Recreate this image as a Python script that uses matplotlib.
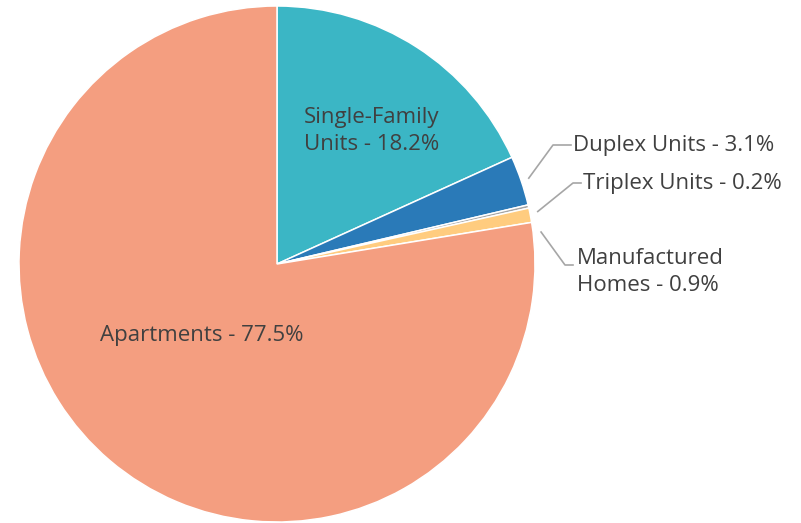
import matplotlib
matplotlib.use("Agg")
import matplotlib.pyplot as plt
import numpy as np

categories = ["Single-Family Units", "Duplex Units", "Triplex Units", "Manufactured Homes", "Apartments"]
values = [18.2, 3.1, 0.2, 0.9, 77.5]
colors = ["#3BB6C5", "#2A7AB8", "#A5A5A5", "#FFCC7F", "#F49E80"]
labels = ["Single-Family\nUnits - 18.2%", "Duplex Units - 3.1%", "Triplex Units - 0.2%",
          "Manufactured\nHomes - 0.9%", "Apartments - 77.5%"]

W, H = 801, 523
fig = plt.figure(figsize=(W / 100, H / 100), dpi=100)
ax = fig.add_axes([0, 0, 1, 1])

cx, cy, R = 277, H - 264, 258
wedges, _ = ax.pie(values, colors=colors, startangle=90, counterclock=False,
                   center=(cx, cy), radius=R, frame=True,
                   wedgeprops=dict(edgecolor="white", linewidth=1.1))
ax.set_xlim(0, W)
ax.set_ylim(0, H)
ax.set_aspect("equal")
ax.axis("off")

font = ["Open Sans", "DejaVu Sans"]
tc = "#404040"
fs = 16
ls = 1.32

# inside labels
ax.text(304, H - 131, labels[0], ha="left", va="center", fontsize=fs, color=tc,
        family=font, linespacing=ls)
ax.text(100, H - 335, labels[4], ha="left", va="center", fontsize=fs, color=tc, family=font)

# outside labels with leader lines
def mid_angle(w):
    return np.deg2rad((w.theta1 + w.theta2) / 2)

lc = "#A6A6A6"
outside = [
    (1, 0.0, (553, 145), (571, 145), (573, 146)),
    (2, -1.5, (573, 183), (581, 183), (583, 184)),
    (3, -4.0, (565, 265), (573, 265), (577, 272)),
]
for idx, dang, elbow, end, txt in outside:
    a = mid_angle(wedges[idx]) + np.deg2rad(dang)
    sx, sy = cx + (R + 8) * np.cos(a), cy + (R + 8) * np.sin(a)
    ax.plot([sx, elbow[0], end[0]], [sy, H - elbow[1], H - end[1]], color=lc, lw=1.2)
    ax.text(txt[0], H - txt[1], labels[idx], ha="left", va="center", fontsize=fs,
            color=tc, family=font, linespacing=ls)

fig.savefig("out.png", dpi=100)
